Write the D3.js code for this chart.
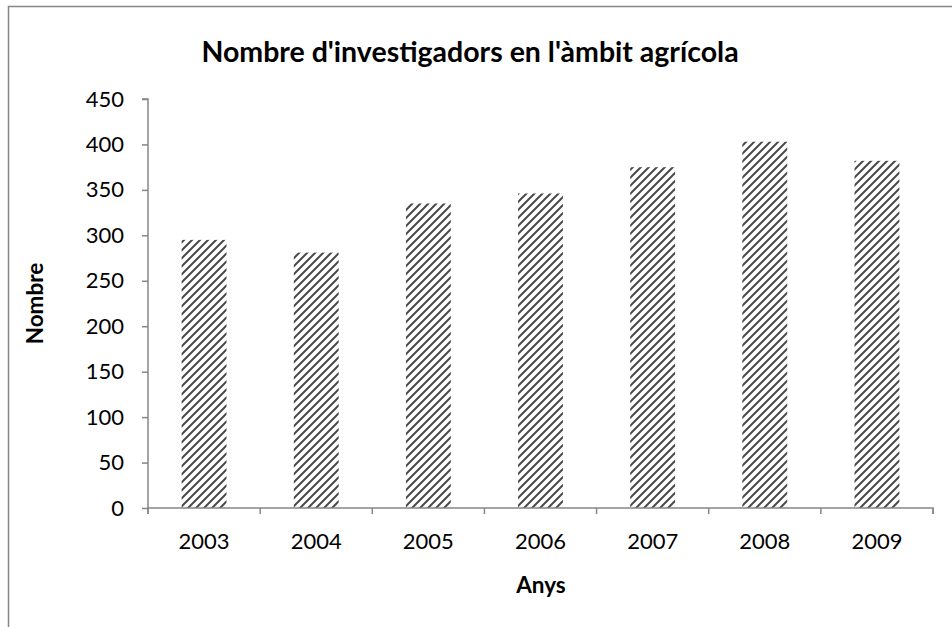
<!DOCTYPE html>
<html>
<head>
<meta charset="utf-8">
<script src="https://cdn.jsdelivr.net/npm/d3@7"></script>
<style>
  body { margin: 0; background: #fff; }
  text { font-family: Lato, "Open Sans", sans-serif; }
</style>
</head>
<body>
<svg id="chart" width="952" height="627"></svg>
<script>
// Data
const years = ["2003", "2004", "2005", "2006", "2007", "2008", "2009"];
const researchers = [295, 281, 335, 346, 375, 403, 382];
const yTicks = [0, 50, 100, 150, 200, 250, 300, 350, 400, 450];

const svg = d3.select("#chart");
const margin = {top: 99, right: 19, bottom: 119, left: 148};
const width = 952, height = 627;

// outer chart border (cut off at right and bottom like the original)
svg.append("rect")
  .attr("x", 8.5).attr("y", 6.5)
  .attr("width", 960).attr("height", 640)
  .attr("fill", "none")
  .attr("stroke", "#868686")
  .attr("stroke-width", 1.5);

// hatch pattern for the bars
const pat = svg.append("defs").append("pattern")
  .attr("id", "hatch")
  .attr("patternUnits", "userSpaceOnUse")
  .attr("width", 8).attr("height", 8);
pat.append("rect").attr("width", 8).attr("height", 8).attr("fill", "#fff");
pat.append("path")
  .attr("d", "M-2,2 L2,-2 M0,8 L8,0 M6,10 L10,6")
  .attr("stroke", "#4a4a4a")
  .attr("stroke-width", 2);

const x = d3.scaleBand()
  .domain(years)
  .range([margin.left, width - margin.right])
  .paddingInner(0.6)
  .paddingOuter(0.3);

const y = d3.scaleLinear()
  .domain([0, 450])
  .range([height - margin.bottom, margin.top]);

// bars
svg.append("g").selectAll("rect")
  .data(researchers)
  .enter()
  .append("rect")
  .attr("x", (d, i) => x(years[i]))
  .attr("width", x.bandwidth())
  .attr("y", d => y(d))
  .attr("height", d => y(0) - y(d))
  .attr("fill", "url(#hatch)");

// y axis
const yAxis = svg.append("g")
  .attr("transform", `translate(${margin.left},0)`)
  .call(d3.axisLeft(y).tickValues(yTicks).tickSize(6).tickPadding(18));

// x axis, ticks between the categories
const xAxis = svg.append("g")
  .attr("transform", `translate(0,${y(0)})`)
  .call(d3.axisBottom(x).tickSize(0).tickPadding(25));

const step = (x.range()[1] - x.range()[0]) / years.length;
xAxis.selectAll(".sep")
  .data(d3.range(years.length + 1))
  .enter()
  .append("line")
  .attr("x1", i => x.range()[0] + i * step)
  .attr("x2", i => x.range()[0] + i * step)
  .attr("y1", 0).attr("y2", 6)
  .attr("stroke", "#868686")
  .attr("stroke-width", 1.5);

[yAxis, xAxis].forEach(g => {
  g.select(".domain").attr("stroke", "#868686").attr("stroke-width", 1.5);
  g.selectAll(".tick line").attr("stroke", "#868686").attr("stroke-width", 1.5);
  g.selectAll(".tick text")
    .attr("fill", "#000")
    .style("font-family", "Lato, sans-serif")
    .style("font-size", "22px");
});
yAxis.select(".domain").attr("d", `M-6,${y(450)}H0V${y(0)}`);
xAxis.select(".domain").attr("d", `M${margin.left},6V0H${width - margin.right}V6`);

// title
svg.append("text")
  .attr("x", 470).attr("y", 62)
  .attr("text-anchor", "middle")
  .style("font-size", "28.5px")
  .style("font-weight", "bold")
  .text("Nombre d'investigadors en l'àmbit agrícola");

// axis titles
svg.append("text")
  .attr("x", 541).attr("y", 593)
  .attr("text-anchor", "middle")
  .style("font-size", "22.5px")
  .style("font-weight", "bold")
  .text("Anys");

svg.append("text")
  .attr("transform", `translate(43,${(y(0) + y(450)) / 2}) rotate(-90)`)
  .attr("text-anchor", "middle")
  .style("font-size", "22.5px")
  .style("font-weight", "bold")
  .text("Nombre");
</script>
</body>
</html>
